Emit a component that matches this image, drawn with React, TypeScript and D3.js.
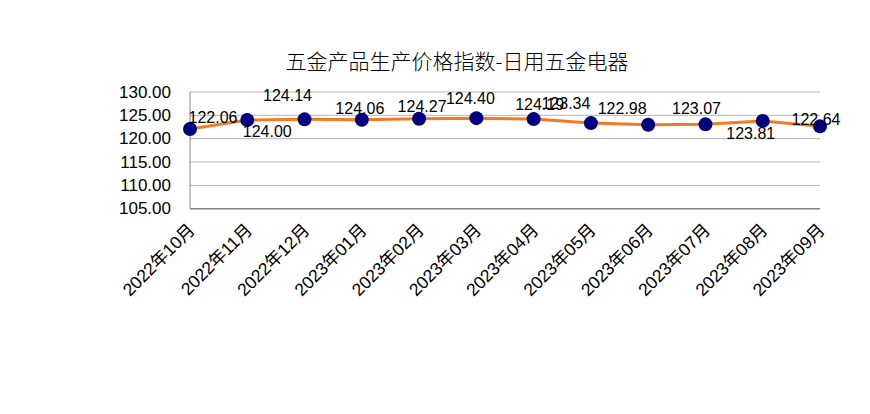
import { useEffect, useRef } from 'react';
import * as d3 from 'd3';

const months = [
  '2022年10月', '2022年11月', '2022年12月', '2023年01月', '2023年02月', '2023年03月',
  '2023年04月', '2023年05月', '2023年06月', '2023年07月', '2023年08月', '2023年09月',
];
const values = [122.06, 124.0, 124.14, 124.06, 124.27, 124.4, 124.19, 123.34, 122.98, 123.07, 123.81, 122.64];
const yTicks = [105, 110, 115, 120, 125, 130];
// label nudges (px) copied from the reference layout
const labelDx = [23, 20, -17, -2, 3, -6, 6, -25, -26, -9, -12, -4];
const labelDy = [-12, 11, -24, -11, -12, -20, -15, -20, -16, -16, 13, -7];

const title = '五金产品生产价格指数-日用五金电器';
const font = '"Liberation Sans", Arial, "Noto Sans CJK SC", sans-serif';

export default function App() {
  const svgRef = useRef<SVGSVGElement>(null);

  useEffect(() => {
    if (!svgRef.current) return;
    const svg = d3.select(svgRef.current);
    svg.selectAll('*').remove();

    const left = 190;
    const right = 820;
    const top = 92;
    const bottom = 208.7;

    const x = d3.scalePoint<string>().domain(months).range([left, right]);
    const y = d3.scaleLinear().domain([105, 130]).range([bottom, top]);

    svg
      .append('text')
      .attr('x', 457)
      .attr('y', 60)
      .attr('text-anchor', 'middle')
      .attr('dominant-baseline', 'central')
      .attr('font-family', '"Noto Sans CJK SC", sans-serif')
      .attr('font-size', 21)
      .attr('font-weight', 300)
      .attr('fill', '#000')
      .text(title);

    // gridlines
    svg
      .append('g')
      .selectAll('line')
      .data(yTicks.filter((t) => t > 105))
      .enter()
      .append('line')
      .attr('x1', left)
      .attr('x2', right)
      .attr('y1', (d) => y(d))
      .attr('y2', (d) => y(d))
      .attr('stroke', '#b4b4b4')
      .attr('stroke-width', 1);

    // axes lines
    svg
      .append('line')
      .attr('x1', left)
      .attr('x2', right)
      .attr('y1', y(105))
      .attr('y2', y(105))
      .attr('stroke', '#868686')
      .attr('stroke-width', 1.5);
    svg
      .append('line')
      .attr('x1', left)
      .attr('x2', left)
      .attr('y1', y(130))
      .attr('y2', y(105))
      .attr('stroke', '#868686')
      .attr('stroke-width', 1);

    // y tick labels
    svg
      .append('g')
      .selectAll('text')
      .data(yTicks)
      .enter()
      .append('text')
      .attr('x', 171)
      .attr('y', (d) => y(d))
      .attr('text-anchor', 'end')
      .attr('dominant-baseline', 'central')
      .attr('font-family', font)
      .attr('font-size', 17)
      .attr('fill', '#000')
      .text((d) => d.toFixed(2));

    // x tick labels
    svg
      .append('g')
      .selectAll('text')
      .data(months)
      .enter()
      .append('text')
      .attr('transform', (d) => `translate(${(x(d) ?? 0) + 6}, ${231}) rotate(-45)`)
      .attr('text-anchor', 'end')
      .attr('font-family', font)
      .attr('font-size', 17.5)
      .attr('fill', '#000')
      .text((d) => d);

    // line
    const line = d3
      .line<number>()
      .x((_, i) => x(months[i]) ?? 0)
      .y((d) => y(d));
    svg
      .append('path')
      .datum(values)
      .attr('d', line)
      .attr('fill', 'none')
      .attr('stroke', '#F47A22')
      .attr('stroke-width', 3);

    // markers
    svg
      .append('g')
      .selectAll('circle')
      .data(values)
      .enter()
      .append('circle')
      .attr('cx', (_, i) => x(months[i]) ?? 0)
      .attr('cy', (d) => y(d))
      .attr('r', 7)
      .attr('fill', '#000080');

    // data labels
    svg
      .append('g')
      .selectAll('text')
      .data(values)
      .enter()
      .append('text')
      .attr('x', (_, i) => (x(months[i]) ?? 0) + labelDx[i])
      .attr('y', (d, i) => y(d) + labelDy[i])
      .attr('text-anchor', 'middle')
      .attr('dominant-baseline', 'central')
      .attr('font-family', font)
      .attr('font-size', 16)
      .attr('fill', '#000')
      .text((d) => d.toFixed(2));
  }, []);

  return (
    <svg
      ref={svgRef}
      width={870}
      height={414}
      style={{ position: 'absolute', left: 0, top: 0, background: '#fff' }}
    />
  );
}
